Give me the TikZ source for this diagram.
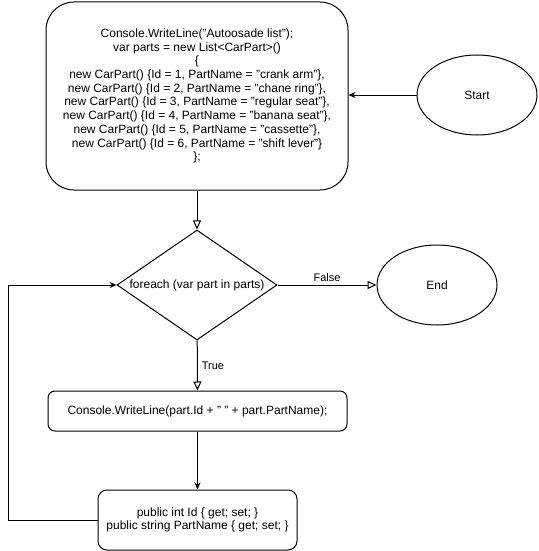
\documentclass[tikz,border=0pt]{standalone}
\usepackage{fontspec}
\setmainfont{Liberation Sans}
\usetikzlibrary{arrows.meta,shapes.geometric}
\begin{document}
\begin{tikzpicture}[x=1pt,y=-1pt,line width=1pt,
  every node/.style={font=\fontsize{12}{13.7}\selectfont},
  code/.style={draw,align=center,inner sep=2pt},
  terminal/.style={draw,ellipse,minimum width=120pt,minimum height=80pt,inner sep=0pt},
  decision/.style={draw,diamond,minimum width=160pt,minimum height=110pt,inner sep=0pt},
  flow/.style={-{Triangle[open,length=9pt,width=8pt]}},
  solid arrow/.style={-{Stealth[length=7pt,width=6pt]}},
  lbl/.style={font=\fontsize{11}{12}\selectfont,inner sep=2pt}]
\useasboundingbox (0,0) rectangle (538,551);

% nodes
\node[code,rounded corners=28pt,minimum width=302pt,minimum height=188pt] (init) at (197,96)
  {Console.WriteLine("Autoosade list");\\
   var parts = new List<CarPart>()\\
   \{\\
   new CarPart() \{Id = 1, PartName = "crank arm"\},\\
   new CarPart() \{Id = 2, PartName = "chane ring"\},\\
   new CarPart() \{Id = 3, PartName = "regular seat"\},\\
   new CarPart() \{Id = 4, PartName = "banana seat"\},\\
   new CarPart() \{Id = 5, PartName = "cassette"\},\\
   new CarPart() \{Id = 6, PartName = "shift lever"\}\\
   \};};
\node[terminal] (start) at (477,95) {Start};
\node[decision,label={center:foreach (var part in parts)}] (loop) at (197,285) {};
\node[terminal] (end) at (437,285) {End};
\node[code,rounded corners=7pt,minimum width=299pt,minimum height=40pt] (body) at (197.5,411)
  {Console.WriteLine(part.Id + " " + part.PartName);};
\node[code,rounded corners=9pt,minimum width=199pt,minimum height=60pt] (props) at (197.5,520)
  {public int Id \{ get; set; \}\\public string PartName \{ get; set; \}};

% connectors
\draw[solid arrow] (start.west) -- (start.west -| init.east);
\draw[flow] (init) -- (loop);
\draw[flow] (loop) -- node[lbl,above,pos=0.5,yshift=1pt] {False} (end);
\draw[flow] (loop) -- node[lbl,right,pos=0.5,xshift=2pt] {True} (body);
\draw[solid arrow] (body) -- (props);
\coordinate (back) at (8,520);
\draw[solid arrow] (props.west) -- (back) |- (loop.west);
\end{tikzpicture}
\end{document}
